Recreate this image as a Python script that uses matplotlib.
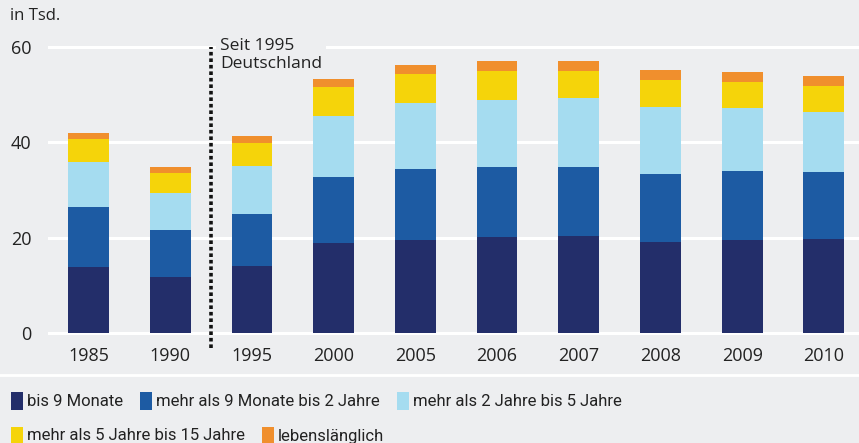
import matplotlib
matplotlib.use("Agg")
import matplotlib.pyplot as plt
from matplotlib.patches import Rectangle
from matplotlib.lines import Line2D
from matplotlib import font_manager
import numpy as np

# data (in Tsd.)
years = ["1985", "1990", "1995", "2000", "2005", "2006", "2007", "2008", "2009", "2010"]
bis_9_monate = [13.9, 11.8, 14.1, 18.9, 19.4, 20.1, 20.3, 19.1, 19.5, 19.7]
bis_2_jahre = [12.5, 9.8, 10.8, 13.8, 15.0, 14.8, 14.6, 14.2, 14.4, 14.0]
bis_5_jahre = [9.4, 7.7, 10.2, 12.9, 13.8, 14.0, 14.3, 14.0, 13.2, 12.7]
bis_15_jahre = [4.9, 4.2, 4.7, 6.0, 6.1, 6.1, 5.8, 5.8, 5.6, 5.3]
lebenslang = [1.2, 1.3, 1.5, 1.6, 1.9, 2.1, 2.1, 2.1, 2.1, 2.1]
y_ticks = [0, 20, 40, 60]

labels = ["bis 9 Monate", "mehr als 9 Monate bis 2 Jahre", "mehr als 2 Jahre bis 5 Jahre",
          "mehr als 5 Jahre bis 15 Jahre", "lebenslänglich"]
colors = ["#232e6a", "#1d5ba3", "#a5dcf0", "#f5d40a", "#f08f2d"]
bg = "#edeef0"

W, H = 859, 443
fig = plt.figure(figsize=(W / 100, H / 100), dpi=100, facecolor=bg)
y_bot, y_top = 335.9, 34.9
ax = fig.add_axes([48 / W, (H - y_bot) / H, 1 - 48 / W, (y_bot - y_top) / H])
ax.set_facecolor(bg)

font = ["Open Sans", "DejaVu Sans"]
installed = {f.name for f in font_manager.fontManager.ttflist}
legfont = ["Liberation Sans Narrow" if "Liberation Sans Narrow" in installed else "Roboto",
           "DejaVu Sans"]

x = np.arange(len(years))
bottom = np.zeros(len(years))
series = [bis_9_monate, bis_2_jahre, bis_5_jahre, bis_15_jahre, lebenslang]
for vals, c in zip(series, colors):
    ax.bar(x, vals, 0.5, bottom=bottom, color=c, zorder=3)
    bottom += np.array(vals)

ax.set_xlim(-0.496, 9.43)
ax.set_ylim(-0.6, 62.5)
ax.set_yticks(y_ticks)
ax.set_xticks(x)
ax.set_xticklabels(years)
for s in ax.spines.values():
    s.set_visible(False)
ax.tick_params(length=0, labelsize=13, colors="#222222")
ax.tick_params(axis="x", pad=8)
ax.tick_params(axis="y", pad=12)
for t in ax.get_xticklabels() + ax.get_yticklabels():
    t.set_family(font)
ax.grid(axis="y", color="white", linewidth=2.2, zorder=1)
ax.grid(axis="x", visible=False)
ax.set_axisbelow(True)

# Trennlinie 1995
ax.plot([1.5, 1.5], [-3.1, 60], color="#111111", linestyle=(0, (1, 0.8)), linewidth=2.6,
        clip_on=False, zorder=4)
ax.text(1.61, 58.3, "Seit 1995\nDeutschland", fontsize=12.5, family=font, color="#222222",
        va="center", ha="left", linespacing=1.15, zorder=5,
        bbox=dict(facecolor=bg, edgecolor="none", pad=3))

fig.text(10 / W, 1 - 16 / H, "in Tsd.", fontsize=12, family=font, color="#222222",
         va="center", ha="left")

# Trennlinie zur Legende
fig.add_artist(Line2D([0, 1], [1 - 375 / H, 1 - 375 / H], color="white", linewidth=2,
                      transform=fig.transFigure))

# Legende
renderer = fig.canvas.get_renderer()
rows = [[0, 1, 2], [3, 4]]
row_y = [401, 436]
for row, yc in zip(rows, row_y):
    xp = 11
    for i in row:
        fig.add_artist(Rectangle((xp / W, 1 - (yc + 9) / H), 12 / W, 18 / H,
                                 facecolor=colors[i], edgecolor="none",
                                 transform=fig.transFigure))
        t = fig.text((xp + 16) / W, 1 - yc / H, labels[i], fontsize=12, family=legfont,
                     color="#222222", va="center", ha="left")
        bb = t.get_window_extent(renderer)
        xp = bb.x1 + 17

fig.savefig("out.png", dpi=100, facecolor=bg)
